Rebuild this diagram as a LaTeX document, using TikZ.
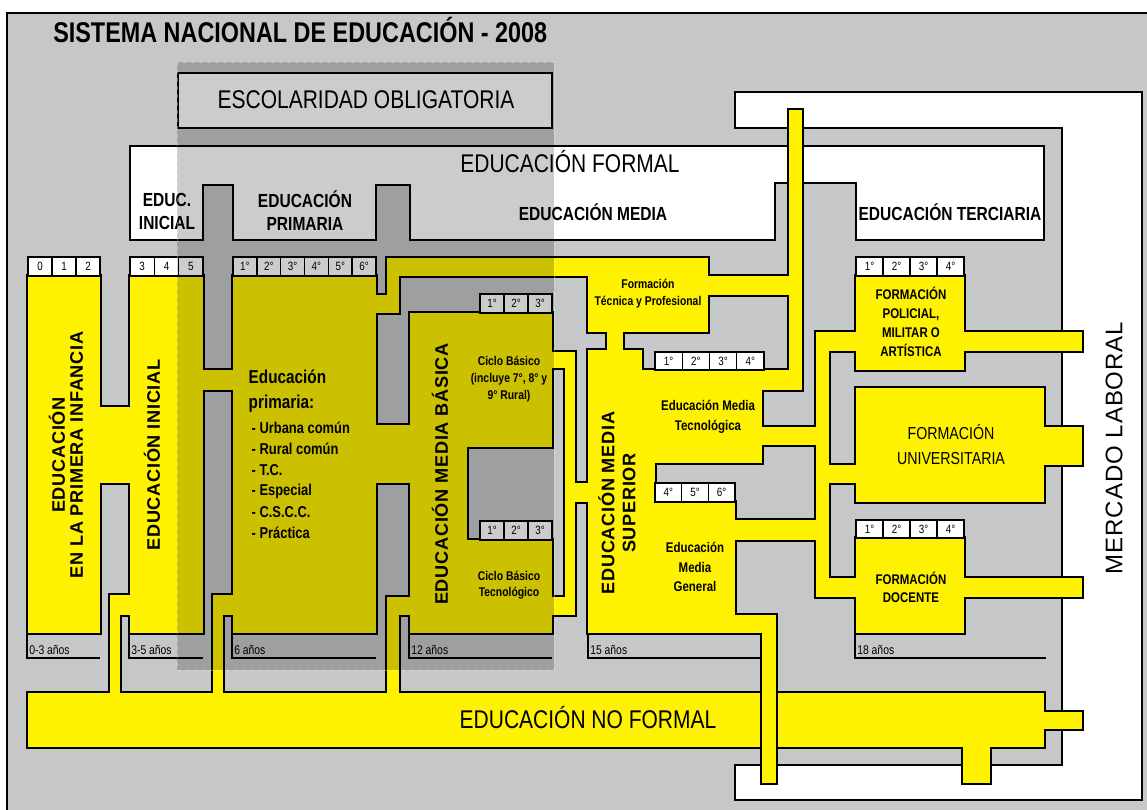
\documentclass[tikz,border=0pt]{standalone}
\usepackage{fontspec}
\setmainfont{Liberation Sans}
\newfontfamily\nar[FakeStretch=0.82]{Liberation Sans}
\newfontfamily\spc[LetterSpace=4]{Liberation Sans}

\definecolor{ylw}{RGB}{255,242,0}
\definecolor{bgg}{RGB}{198,199,201}

% yellow network, as x1/y1/x2/y2 pieces (pixels, y downwards)
\newcommand\ylist{28/276/100/633, 99/407/131/483, 130/276/203/633,
	110/595/131/615, 110/595/120/700, 202/370/234/390, 233/276/376/633,
	213/595/234/615, 213/595/223/700,
	375/295/399/313, 387/258/399/313, 387/258/708/276, 375/425/411/483,
	410/313/552/447, 410/446/467/541, 410/540/552/633,
	387/597/411/615, 387/597/399/700,
	551/352/575/368, 565/352/575/615, 551/597/575/615, 574/483/589/502,
	588/258/708/332, 707/276/790/295, 607/331/623/351, 789/110/802/390,
	588/350/642/633, 641/370/655/633,
	654/370/762/463, 761/370/790/390, 761/427/817/445,
	654/502/735/633, 734/520/817/540, 734/615/776/633, 762/615/776/783,
	816/332/829/597, 828/332/857/351,
	856/276/964/370, 963/332/1082/351,
	828/465/857/483, 856/388/1044/502, 1043/427/1082/465,
	828/578/857/597, 856/538/964/633, 963/578/1082/597,
	28/693/1044/747, 1043/712/1082/729, 963/746/990/783}

% row of grade cells: x0, y0, cell width, height, labels
\newcommand\grades[5]{%
	\foreach \g [count=\k from 0] in {#5}{
		\draw[cellbox] ({#1+#3*\k},#2) rectangle ++(#3,#4);
		\node[celltxt] (g#1-#2-\k) at ({#1+#3*\k+#3/2},{#2+#4/2}) {\g};
	}}

\tikzset{
	edge/.style={line width=1.2pt},
	cellbox/.style={draw,fill=white,line width=1.1pt},
	celltxt/.style={font=\nar\fontsize{9}{9}\selectfont,inner sep=0pt},
	secttl/.style={font=\nar\bfseries\fontsize{14.2}{17.25}\selectfont,align=center},
	bigttl/.style={font=\nar\fontsize{19.2}{22}\selectfont,anchor=base},
	vttl/.style={font=\spc\bfseries\fontsize{13.6}{13.5}\selectfont,rotate=90,align=center},
	smallb/.style={font=\nar\bfseries\fontsize{9.5}{12.75}\selectfont,align=center},
	midb/.style={font=\nar\bfseries\fontsize{10.5}{14.6}\selectfont,align=center},
	agelbl/.style={font=\nar\fontsize{9.5}{9.5}\selectfont,anchor=west,inner sep=0pt},
}

\begin{document}
\begin{tikzpicture}[x=0.75pt,y=-0.75pt]
	\useasboundingbox (0,0) rectangle (1147,810);
	\fill[white] (0,0) rectangle (1147,810);
	\fill[bgg] (7,13) rectangle (1147,810);
	\draw[edge] (7,810) -- (7,13) -- (1147,13);

	% mercado laboral frame and educacion formal box
	\draw[edge,fill=white] (735,92) -- (1142,92) -- (1142,800) -- (735,800) -- (735,765)
		-- (1062,765) -- (1062,128) -- (735,128) -- cycle;
	\draw[edge,fill=white] (130,146) -- (1044,146) -- (1044,240) -- (856,240) -- (856,183)
		-- (775,183) -- (775,240) -- (410,240) -- (410,185) -- (376,185) -- (376,240)
		-- (233,240) -- (233,185) -- (203,185) -- (203,240) -- (130,240) -- cycle;
	\draw[edge,fill=white] (178,73) rectangle (552,128);

	% outline of the union first, then the fill
	\foreach \a/\b/\c/\d in \ylist \draw[line width=2.4pt] (\a,\b) rectangle (\c,\d);
	\foreach \a/\b/\c/\d in \ylist \fill[ylw] (\a,\b) rectangle (\c,\d);
	\draw[edge] (761.2,633) -- (761.2,783) (776.8,615) -- (776.8,783);

	\grades{28}{257}{24}{19}{0,1,2}
	\grades{130}{257}{24.33}{19}{3,4,5}
	\grades{233}{257}{23.83}{19}{1°,2°,3°,4°,5°,6°}
	\grades{480}{294}{24}{19}{1°,2°,3°}
	\grades{480}{521}{24}{19}{1°,2°,3°}
	\grades{655}{352}{27.25}{18}{1°,2°,3°,4°}
	\grades{655}{483}{26.67}{19}{4°,5°,6°}
	\grades{856}{257}{27}{19}{1°,2°,3°,4°}
	\grades{856}{520}{27}{18}{1°,2°,3°,4°}

	% age shelves
	\foreach \a/\b/\t in {28/100/0-3 años, 130/203/3-5 años, 233/376/6 años,
		410/552/12 años, 589/762/15 años, 856/1046/18 años}{
		\draw[edge] (\a-0.8,633) -- (\a-0.8,658) -- (\b,658);
		\node[agelbl] (age\a) at (\a+1,650) {\t};
	}

	\node[anchor=base west,inner sep=0pt,font=\nar\bfseries\fontsize{21.4}{24}\selectfont] (title)
		at (53,42) {SISTEMA NACIONAL DE EDUCACIÓN - 2008};
	\node[bigttl] (oblig) at (366,108) {ESCOLARIDAD OBLIGATORIA};
	\node[bigttl] (formal) at (570,172) {EDUCACIÓN FORMAL};
	\node[bigttl] (noformal) at (588,728) {EDUCACIÓN NO FORMAL};

	\node[secttl] (inicT) at (167,211) {EDUC.\\INICIAL};
	\node[secttl] (primT) at (305,211) {EDUCACIÓN\\PRIMARIA};
	\node[secttl] (mediaT) at (593,212) {EDUCACIÓN MEDIA};
	\node[secttl] (terT) at (950,212) {EDUCACIÓN TERCIARIA};

	\node[vttl] (infT) at (66,455) {EDUCACIÓN\\EN LA PRIMERA INFANCIA};
	\node[vttl] (iniT) at (152,455) {EDUCACIÓN INICIAL};
	\node[vttl] (mbT) at (440,474) {EDUCACIÓN MEDIA BÁSICA};
	\node[vttl,font=\spc\bfseries\fontsize{13.6}{15.75}\selectfont] (msT) at (617,503)
		{EDUCACIÓN MEDIA\\SUPERIOR};
	\node[rotate=90,font=\spc\fontsize{18}{18}\selectfont] (mlT) at (1114,448) {MERCADO LABORAL};

	\node[font=\nar\bfseries\fontsize{14}{18.75}\selectfont,align=left,anchor=north west]
		(primN) at (244,365) {Educación\\primaria:};
	\foreach \t [count=\k from 0] in {Urbana común, Rural común, T.C., Especial, C.S.C.C., Práctica}
		\node[font=\nar\bfseries\fontsize{11.8}{12}\selectfont,anchor=west] (pl\k) at (247,{428+21*\k}) {- \t};

	\node[smallb] (ftpT) at (648,294) {Formación\\Técnica y Profesional};
	\node[smallb] (cbT) at (509,379) {Ciclo Básico\\(incluye 7°, 8° y\\9° Rural)};
	\node[smallb,font=\nar\bfseries\fontsize{9.5}{12}\selectfont] (cbtT) at (509,585) {Ciclo Básico\\Tecnológico};
	\node[midb,font=\nar\bfseries\fontsize{10.5}{15}\selectfont] (tecT) at (708,417) {Educación Media\\Tecnológica};
	\node[midb] (genT) at (695,567) {Educación\\Media\\General};
	\node[midb,font=\nar\bfseries\fontsize{10.5}{14.25}\selectfont] (polT) at (911,322)
		{FORMACIÓN\\POLICIAL,\\MILITAR O\\ARTÍSTICA};
	\node[font=\nar\fontsize{13}{18.75}\selectfont,align=center] (uniT) at (951,445) {FORMACIÓN\\UNIVERSITARIA};
	\node[midb,font=\nar\bfseries\fontsize{10.5}{13.5}\selectfont] (docT) at (911,587) {FORMACIÓN\\DOCENTE};

	% escolaridad obligatoria shade
	\fill[black,opacity=0.2] (177,62) rectangle (554,670);
	\draw[white,opacity=0.35,dash pattern=on 3pt off 3pt] (177,62) rectangle (554,670);
\end{tikzpicture}
\end{document}
